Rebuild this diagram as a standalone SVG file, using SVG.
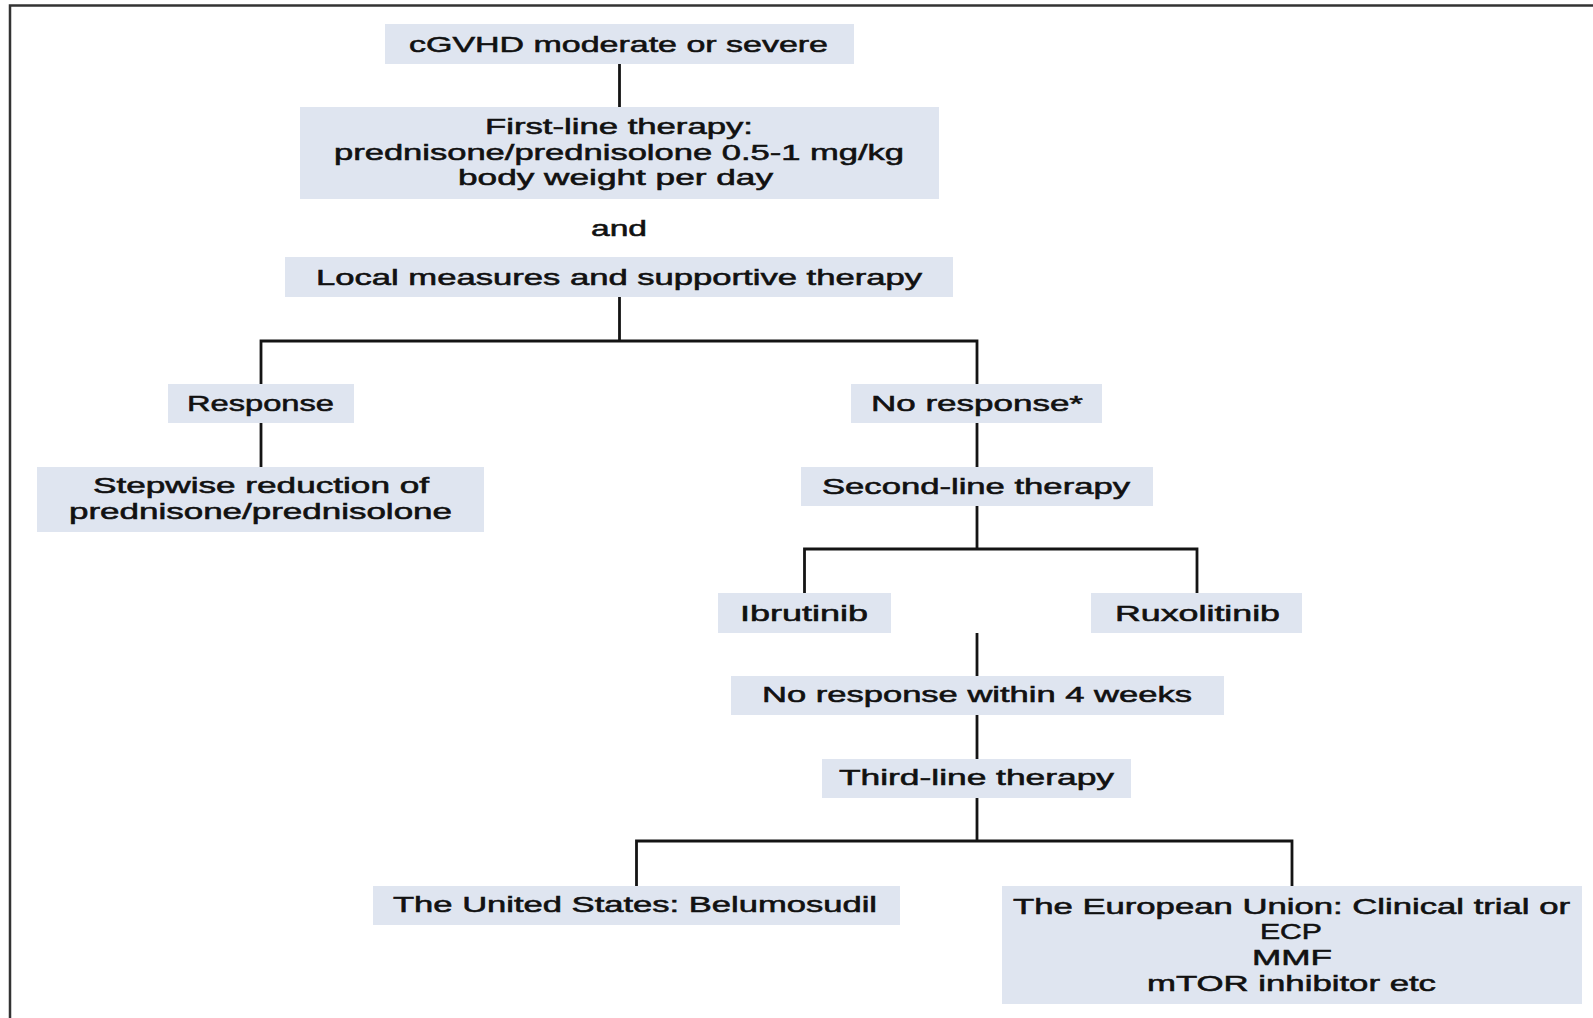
<svg xmlns="http://www.w3.org/2000/svg" width="1593" height="1018" viewBox="0 0 1593 1018">
<style>
.box{fill:#dfe5f0;}
.t{font-family:"Liberation Sans",Arial,sans-serif;font-size:22px;fill:#111;stroke:#111;stroke-width:0.55px;}
.c{stroke:#141414;stroke-width:2.8;fill:none;}
.frame{stroke:#333;stroke-width:2.5;fill:none;}
</style>
<rect width="1593" height="1018" fill="#fff"/>
<path class="frame" d="M10,1018 V5.5 H1593"/>
<g id="connectors">
<path class="c" d="M619.5,64 V107"/>
<path class="c" d="M619.5,297 V341 M261,384 V341 H977 V384"/>
<path class="c" d="M261,423 V467"/>
<path class="c" d="M977,423 V467"/>
<path class="c" d="M977,506 V549 M804.5,593 V549 H1197 V593"/>
<path class="c" d="M977,633 V676"/>
<path class="c" d="M977,715 V759"/>
<path class="c" d="M977,798 V841 M636.5,886 V841 H1292 V886"/>
</g>
<g id="n-cgvhd">
<rect class="box" x="385" y="24" width="469" height="40"/>
<text class="t" x="409" y="52" textLength="419" lengthAdjust="spacingAndGlyphs">cGVHD moderate or severe</text>
</g>
<g id="n-first">
<rect class="box" x="300" y="107" width="639" height="92"/>
<text class="t" x="485" y="134" textLength="268" lengthAdjust="spacingAndGlyphs">First-line therapy:</text>
<text class="t" x="334" y="160" textLength="570" lengthAdjust="spacingAndGlyphs">prednisone/prednisolone 0.5-1 mg/kg</text>
<text class="t" x="458" y="185" textLength="315" lengthAdjust="spacingAndGlyphs">body weight per day</text>
</g>
<g id="n-and">
<text class="t" x="591" y="236" textLength="56" lengthAdjust="spacingAndGlyphs">and</text>
</g>
<g id="n-local">
<rect class="box" x="285" y="257" width="668" height="40"/>
<text class="t" x="316" y="285" textLength="606" lengthAdjust="spacingAndGlyphs">Local measures and supportive therapy</text>
</g>
<g id="n-response">
<rect class="box" x="168" y="384" width="186" height="39"/>
<text class="t" x="187" y="411" textLength="147" lengthAdjust="spacingAndGlyphs">Response</text>
</g>
<g id="n-stepwise">
<rect class="box" x="37" y="467" width="447" height="65"/>
<text class="t" x="93" y="493" textLength="336" lengthAdjust="spacingAndGlyphs">Stepwise reduction of</text>
<text class="t" x="69" y="519" textLength="383" lengthAdjust="spacingAndGlyphs">prednisone/prednisolone</text>
</g>
<g id="n-noresponse">
<rect class="box" x="851" y="384" width="251" height="39"/>
<text class="t" x="871" y="411" textLength="212" lengthAdjust="spacingAndGlyphs">No response*</text>
</g>
<g id="n-second">
<rect class="box" x="801" y="467" width="352" height="39"/>
<text class="t" x="822" y="494" textLength="308" lengthAdjust="spacingAndGlyphs">Second-line therapy</text>
</g>
<g id="n-ibrutinib">
<rect class="box" x="718" y="593" width="173" height="40"/>
<text class="t" x="740" y="621" textLength="128" lengthAdjust="spacingAndGlyphs">Ibrutinib</text>
</g>
<g id="n-ruxolitinib">
<rect class="box" x="1091" y="593" width="211" height="40"/>
<text class="t" x="1115" y="621" textLength="165" lengthAdjust="spacingAndGlyphs">Ruxolitinib</text>
</g>
<g id="n-noresp4">
<rect class="box" x="731" y="676" width="493" height="39"/>
<text class="t" x="762" y="702" textLength="430" lengthAdjust="spacingAndGlyphs">No response within 4 weeks</text>
</g>
<g id="n-third">
<rect class="box" x="822" y="759" width="309" height="39"/>
<text class="t" x="839" y="785" textLength="275" lengthAdjust="spacingAndGlyphs">Third-line therapy</text>
</g>
<g id="n-us">
<rect class="box" x="373" y="886" width="527" height="39"/>
<text class="t" x="393" y="912" textLength="484" lengthAdjust="spacingAndGlyphs">The United States: Belumosudil</text>
</g>
<g id="n-eu">
<rect class="box" x="1002" y="886" width="580" height="118"/>
<text class="t" x="1013" y="914" textLength="557" lengthAdjust="spacingAndGlyphs">The European Union: Clinical trial or</text>
<text class="t" x="1260" y="939" textLength="62" lengthAdjust="spacingAndGlyphs">ECP</text>
<text class="t" x="1252" y="965" textLength="80" lengthAdjust="spacingAndGlyphs">MMF</text>
<text class="t" x="1147" y="991" textLength="289" lengthAdjust="spacingAndGlyphs">mTOR inhibitor etc</text>
</g>
</svg>
